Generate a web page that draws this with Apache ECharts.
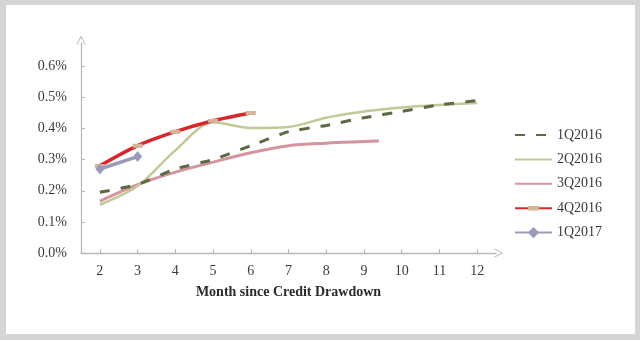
<!DOCTYPE html>
<html>
<head>
<meta charset="utf-8">
<script src="https://cdn.jsdelivr.net/npm/echarts@6/dist/echarts.min.js"></script>
<style>
  html, body { margin: 0; padding: 0; width: 640px; height: 340px; background: #d5d5d5; overflow: hidden; }
  #chart { position: absolute; left: 6px; top: 5px; width: 629px; height: 329px; background: #ffffff; }
</style>
</head>
<body>
<div id="chart"></div>
<script>
// ---- data ----
const monthTicks = [2, 3, 4, 5, 6, 7, 8, 9, 10, 11, 12];
const yTicks = [0, 0.1, 0.2, 0.3, 0.4, 0.5, 0.6];

const months1Q2016 = [2, 3, 4, 5, 6, 7, 8, 9, 10, 11, 12];
const vals1Q2016   = [0.195, 0.22, 0.27, 0.30, 0.345, 0.39, 0.41, 0.435, 0.455, 0.476, 0.49];

const months2Q2016 = [2, 3, 4, 5, 6, 7, 8, 9, 10, 11, 12];
const vals2Q2016   = [0.155, 0.215, 0.33, 0.42, 0.402, 0.405, 0.435, 0.455, 0.468, 0.476, 0.482];

const months3Q2016 = [2, 3, 4, 5, 6, 7, 8, 9, 9.4];
const vals3Q2016   = [0.167, 0.22, 0.26, 0.292, 0.322, 0.345, 0.353, 0.358, 0.36];

const months4Q2016 = [2, 3, 4, 5, 6];
const vals4Q2016   = [0.28, 0.345, 0.39, 0.425, 0.45];

const months1Q2017 = [2, 3];
const vals1Q2017   = [0.27, 0.31];

const pair = (xs, ys) => xs.map((x, i) => [x, ys[i]]);

const serif = '"Liberation Serif", "DejaVu Serif", serif';
const arrowUp = 'path://M0,10 L5,0 L10,10 L8.8,10 L5,2.2 L1.2,10 Z';
// flat "dash" marker inside a square bounding box (zero-area lines keep the box square)
const dashMarker = 'path://M0,0 L10,0 Z M0,3 L10,3 L10,7 L0,7 Z M0,10 L10,10 Z';

const chart = echarts.init(document.getElementById('chart'), null, { renderer: 'canvas' });
chart.setOption({
  animation: false,
  textStyle: { fontFamily: serif },
  grid: { left: 75, right: 139, top: 38, bottom: 81, containLabel: false },
  legend: {
    orient: 'vertical',
    left: 503,
    top: 118,
    itemWidth: 37,
    itemHeight: 14,
    itemGap: 10.4,
    textStyle: { fontFamily: serif, fontSize: 14, color: '#3a3a3a' },
    data: [
      { name: '1Q2016', itemStyle: { opacity: 0 } },
      { name: '2Q2016', itemStyle: { opacity: 0 } },
      { name: '3Q2016', itemStyle: { opacity: 0 } },
      { name: '4Q2016' },
      { name: '1Q2017' }
    ]
  },
  xAxis: {
    type: 'value',
    min: 1.5,
    max: 12.5,
    name: 'Month since Credit Drawdown',
    nameLocation: 'middle',
    nameGap: 32,
    nameTextStyle: { fontFamily: serif, fontSize: 14, fontWeight: 'bold', color: '#2a2a2a' },
    axisLine: {
      show: true,
      lineStyle: { color: '#b8b8b8', width: 1.3 },
      symbol: ['none', arrowUp],
      symbolSize: [12, 9],
      symbolOffset: [0, 3]
    },
    axisTick: { show: true, inside: true, length: 4, lineStyle: { color: '#b8b8b8' }, customValues: monthTicks },
    axisLabel: { fontFamily: serif, fontSize: 14, color: '#3a3a3a', margin: 11, customValues: monthTicks },
    splitLine: { show: false }
  },
  yAxis: {
    type: 'value',
    min: 0,
    max: 0.675,
    axisLine: {
      show: true,
      lineStyle: { color: '#b8b8b8', width: 1.3 },
      symbol: ['none', arrowUp],
      symbolSize: [12, 9],
      symbolOffset: [0, 3]
    },
    axisTick: { show: true, inside: true, length: 4, lineStyle: { color: '#b8b8b8' }, customValues: yTicks },
    axisLabel: {
      fontFamily: serif, fontSize: 14, color: '#3a3a3a', margin: 14,
      customValues: yTicks,
      formatter: v => v.toFixed(1) + '%'
    },
    splitLine: { show: false }
  },
  series: [
    {
      name: '3Q2016', type: 'line', smooth: 0.3, symbol: 'none', z: 2,
      data: pair(months3Q2016, vals3Q2016),
      lineStyle: { color: '#d4959f', width: 3 },
      itemStyle: { color: '#d4959f' }
    },
    {
      name: '2Q2016', type: 'line', smooth: 0.3, symbol: 'none', z: 3,
      data: pair(months2Q2016, vals2Q2016),
      lineStyle: { color: '#c3c898', width: 2.5 },
      itemStyle: { color: '#c3c898' }
    },
    {
      name: '1Q2016', type: 'line', smooth: 0.15, symbol: 'none', z: 4,
      data: pair(months1Q2016, vals1Q2016),
      lineStyle: { color: '#5c6846', width: 3, type: [10, 11] },
      itemStyle: { color: '#5c6846' }
    },
    {
      name: '4Q2016', type: 'line', smooth: 0.3, z: 5,
      symbol: dashMarker, symbolSize: 10, showAllSymbol: true,
      data: pair(months4Q2016, vals4Q2016),
      lineStyle: { color: '#d8262c', width: 3.5 },
      itemStyle: { color: '#d6b496', borderWidth: 0 }
    },
    {
      name: '1Q2017', type: 'line', smooth: 0.3, z: 6,
      symbol: 'diamond', symbolSize: [9, 11], showAllSymbol: true,
      data: pair(months1Q2017, vals1Q2017),
      lineStyle: { color: '#9b9bb9', width: 3.5 },
      itemStyle: { color: '#9b9bb9', borderWidth: 0 }
    }
  ]
});
</script>
</body>
</html>
